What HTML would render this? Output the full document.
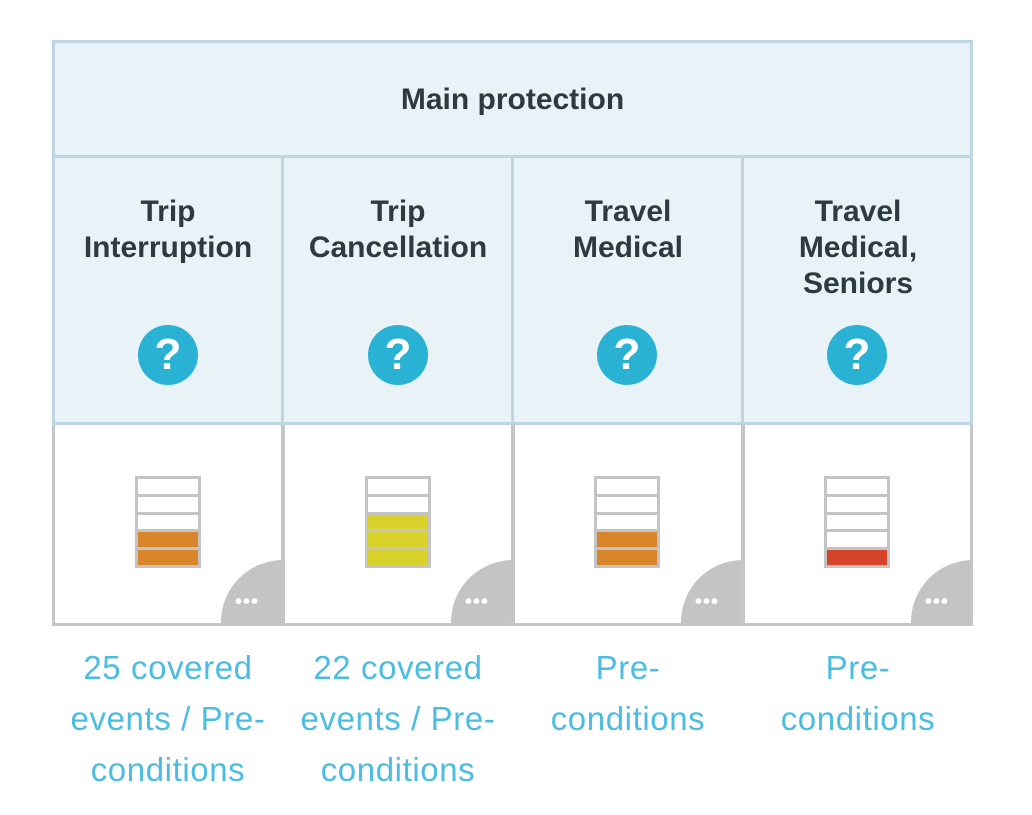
<!DOCTYPE html>
<html><head><meta charset="utf-8"><style>
body{margin:0;width:1032px;height:815px;background:#fff;font-family:"Liberation Sans",sans-serif;position:relative;overflow:hidden}
.a{position:absolute;box-sizing:border-box}
.hd{background:#e9f3f7;border:3px solid #bcd6e2}
.t{color:#2d3a40;font-size:30px;text-align:center;line-height:36px;font-weight:bold;letter-spacing:0px}
.q{width:60px;height:60px;border-radius:50%;background:#29b2d4;color:#fff;font-size:44px;font-weight:bold;text-align:center;line-height:60px}
.cell{background:#fff;border:3px solid #c6c6c6;border-top:none;overflow:hidden}
.bar{width:66px;height:92px;border:3px solid #c4c4c4;background:#c4c4c4;display:flex;flex-direction:column;gap:3px}
.bar div{flex:1;background:#fff}
.corner{width:124px;height:124px;border-radius:50%;background:#c4c4c4}
.dots{color:#fff;font-size:20px;font-weight:bold;letter-spacing:1px}
.lk{color:#4cbde2;font-size:33px;text-align:center;line-height:51px;letter-spacing:0.6px}
</style></head><body>
<div class="a hd" style="left:52px;top:40px;width:921px;height:118px"></div>
<div class="a t" style="left:52px;top:82px;width:921px">Main protection</div>
<div class="a hd" style="left:52px;top:155px;width:921px;height:270px"></div>
<div class="a" style="left:281px;top:155px;width:3px;height:270px;background:#bcd6e2"></div>
<div class="a" style="left:511px;top:155px;width:3px;height:270px;background:#bcd6e2"></div>
<div class="a" style="left:741px;top:155px;width:3px;height:270px;background:#bcd6e2"></div>

<div class="a t" style="left:53px;top:194px;width:230px">Trip<br>Interruption</div>
<div class="a t" style="left:283px;top:194px;width:230px">Trip<br>Cancellation</div>
<div class="a t" style="left:513px;top:194px;width:230px">Travel<br>Medical</div>
<div class="a t" style="left:743px;top:194px;width:230px">Travel<br>Medical,<br>Seniors</div>

<div class="a q" style="left:138px;top:325px">?</div>
<div class="a q" style="left:368px;top:325px">?</div>
<div class="a q" style="left:597px;top:325px">?</div>
<div class="a q" style="left:827px;top:325px">?</div>

<div class="a cell" style="left:52px;top:425px;width:232px;height:201px"></div>
<div class="a cell" style="left:282px;top:425px;width:232px;height:201px"></div>
<div class="a cell" style="left:512px;top:425px;width:232px;height:201px"></div>
<div class="a cell" style="left:742px;top:425px;width:231px;height:201px"></div>

<div class="a bar" style="left:135px;top:476px"><div></div><div></div><div></div><div style="background:#d9862a"></div><div style="background:#d9862a"></div></div>
<div class="a bar" style="left:365px;top:476px"><div></div><div></div><div style="background:#d9d22a"></div><div style="background:#d9d22a"></div><div style="background:#d9d22a"></div></div>
<div class="a bar" style="left:594px;top:476px"><div></div><div></div><div></div><div style="background:#d9862a"></div><div style="background:#d9862a"></div></div>
<div class="a bar" style="left:824px;top:476px"><div></div><div></div><div></div><div></div><div style="background:#d6452a"></div></div>

<div class="a" style="left:55px;top:425px;width:226px;height:198px;overflow:hidden"><div class="a corner" style="left:166px;top:135px"></div><div class="a dots" style="left:180px;top:166px">•••</div></div>
<div class="a" style="left:285px;top:425px;width:226px;height:198px;overflow:hidden"><div class="a corner" style="left:166px;top:135px"></div><div class="a dots" style="left:180px;top:166px">•••</div></div>
<div class="a" style="left:515px;top:425px;width:226px;height:198px;overflow:hidden"><div class="a corner" style="left:166px;top:135px"></div><div class="a dots" style="left:180px;top:166px">•••</div></div>
<div class="a" style="left:745px;top:425px;width:225px;height:198px;overflow:hidden"><div class="a corner" style="left:166px;top:135px"></div><div class="a dots" style="left:180px;top:166px">•••</div></div>

<div class="a lk" style="left:53px;top:642px;width:230px">25 covered<br>events / Pre-<br>conditions</div>
<div class="a lk" style="left:283px;top:642px;width:230px">22 covered<br>events / Pre-<br>conditions</div>
<div class="a lk" style="left:513px;top:642px;width:230px">Pre-<br>conditions</div>
<div class="a lk" style="left:743px;top:642px;width:230px">Pre-<br>conditions</div>
</body></html>
